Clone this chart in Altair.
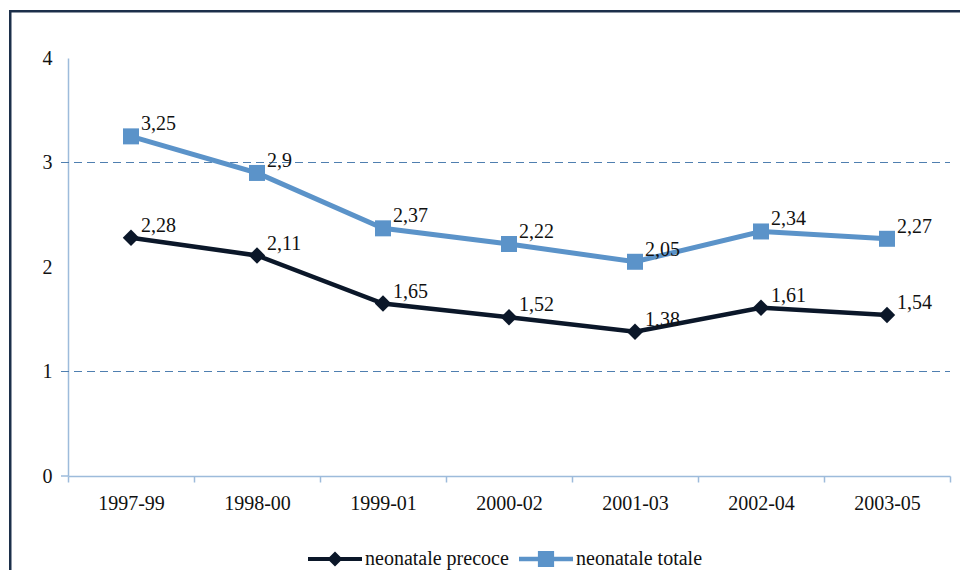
import altair as alt
import pandas as pd

periods = ["1997-99", "1998-00", "1999-01", "2000-02", "2001-03", "2002-04", "2003-05"]
precoce = [2.28, 2.11, 1.65, 1.52, 1.38, 1.61, 1.54]
totale = [3.25, 2.90, 2.37, 2.22, 2.05, 2.34, 2.27]
series_names = ["neonatale precoce", "neonatale totale"]
y_ticks = [0, 1, 2, 3, 4]
grid_values = [1, 3]

DARK = "#0B1729"
BLUE = "#5B93C9"
AXIS = "#9DBBDB"
GRID = "#4F7FB0"
FRAME = "#1C2F4A"
FONT = "Liberation Serif"
W, H = 882, 418


def fmt(v):
    return f"{v:g}".replace(".", ",")


rows = []
for name, vals in zip(series_names, [precoce, totale]):
    for p, v in zip(periods, vals):
        rows.append({"period": p, "series": name, "value": v, "label": fmt(v)})
df = pd.DataFrame(rows)

yscale = alt.Scale(domain=[0, 4], nice=False, zero=True)
xenc = alt.X(
    "period:N",
    sort=periods,
    title=None,
    scale=alt.Scale(paddingInner=0, paddingOuter=0),
    axis=alt.Axis(
        labelAngle=0,
        tickBand="extent",
        tickSize=6,
        tickColor=AXIS,
        tickWidth=1.5,
        domainColor=AXIS,
        domainWidth=1.5,
        labelPadding=11,
        labelFont=FONT,
        labelFontSize=20,
        labelColor="#111111",
        grid=False,
    ),
)
yenc = alt.Y(
    "value:Q",
    scale=yscale,
    title=None,
    axis=alt.Axis(
        values=y_ticks,
        format="d",
        ticks=False,
        grid=False,
        domainColor=AXIS,
        domainWidth=1.5,
        labelPadding=16,
        labelFont=FONT,
        labelFontSize=20,
        labelColor="#111111",
    ),
)

base = alt.Chart(df)

grid = alt.Chart(pd.DataFrame({"v": grid_values})).mark_rule(
    color=GRID, strokeWidth=1.2, strokeDash=[8, 5]
).encode(y=alt.Y("v:Q", scale=yscale), x=alt.value(-7), x2=alt.value(W))

one = pd.DataFrame({"a": [0]})
zero_tick = alt.Chart(one).mark_rule(color=AXIS, strokeWidth=1.5).encode(
    y=alt.datum(0), x=alt.value(-7), x2=alt.value(0)
)
border_top = alt.Chart(one).mark_rect(color=FRAME).encode(
    x=alt.value(-59), x2=alt.value(W + 10), y=alt.value(-48), y2=alt.value(-45.5)
)
border_left = alt.Chart(one).mark_rect(color=FRAME).encode(
    x=alt.value(-59), x2=alt.value(-56.5), y=alt.value(-48), y2=alt.value(H + 94)
)

layers = [grid, zero_tick, border_top, border_left]
for name, color, shape, size, lw in [
    ("neonatale totale", BLUE, "square", 256, 5),
    ("neonatale precoce", DARK, "diamond", 270, 4.5),
]:
    sub = base.transform_filter(alt.datum.series == name)
    layers.append(sub.mark_line(color=color, strokeWidth=lw).encode(x=xenc, y=yenc))
    layers.append(
        sub.mark_point(shape=shape, filled=True, opacity=1, color=color, size=size).encode(
            x=xenc, y=yenc
        )
    )
    layers.append(
        sub.mark_text(
            align="left", baseline="middle", dx=10, dy=-12, font=FONT, fontSize=20, color="#111111"
        ).encode(x=xenc, y=yenc, text="label:N")
    )

diamond_path = "M-1,-0.075L1,-0.075L1,0.075L-1,0.075Z M-0.28,0L0,-0.28L0.28,0L0,0.28Z"
square_path = "M-1,-0.08L1,-0.08L1,0.08L-1,0.08Z M-0.3,-0.3L0.3,-0.3L0.3,0.3L-0.3,0.3Z"
leg = alt.Legend(
    title=None,
    orient="none",
    legendX=240,
    legendY=474,
    direction="horizontal",
    labelFont=FONT,
    labelFontSize=20,
    labelColor="#111111",
    symbolSize=2916,
    symbolStrokeWidth=0,
    symbolOpacity=1,
    columnPadding=10,
    labelOffset=3,
    padding=0,
)
legend_layer = base.mark_point(filled=True, opacity=0).encode(
    x=xenc,
    y=yenc,
    color=alt.Color("series:N", scale=alt.Scale(domain=series_names, range=[DARK, BLUE]), legend=leg),
    shape=alt.Shape("series:N", scale=alt.Scale(domain=series_names, range=[diamond_path, square_path]), legend=leg),
)
layers.append(legend_layer)

chart = (
    alt.layer(*layers)
    .properties(
        width=W,
        height=H,
        background="white",
        padding={"left": 1, "top": 2, "right": 0, "bottom": 0},
    )
    .configure_view(stroke=None)
)

chart.save("out.html", embed_options={"renderer": "svg", "actions": False})
